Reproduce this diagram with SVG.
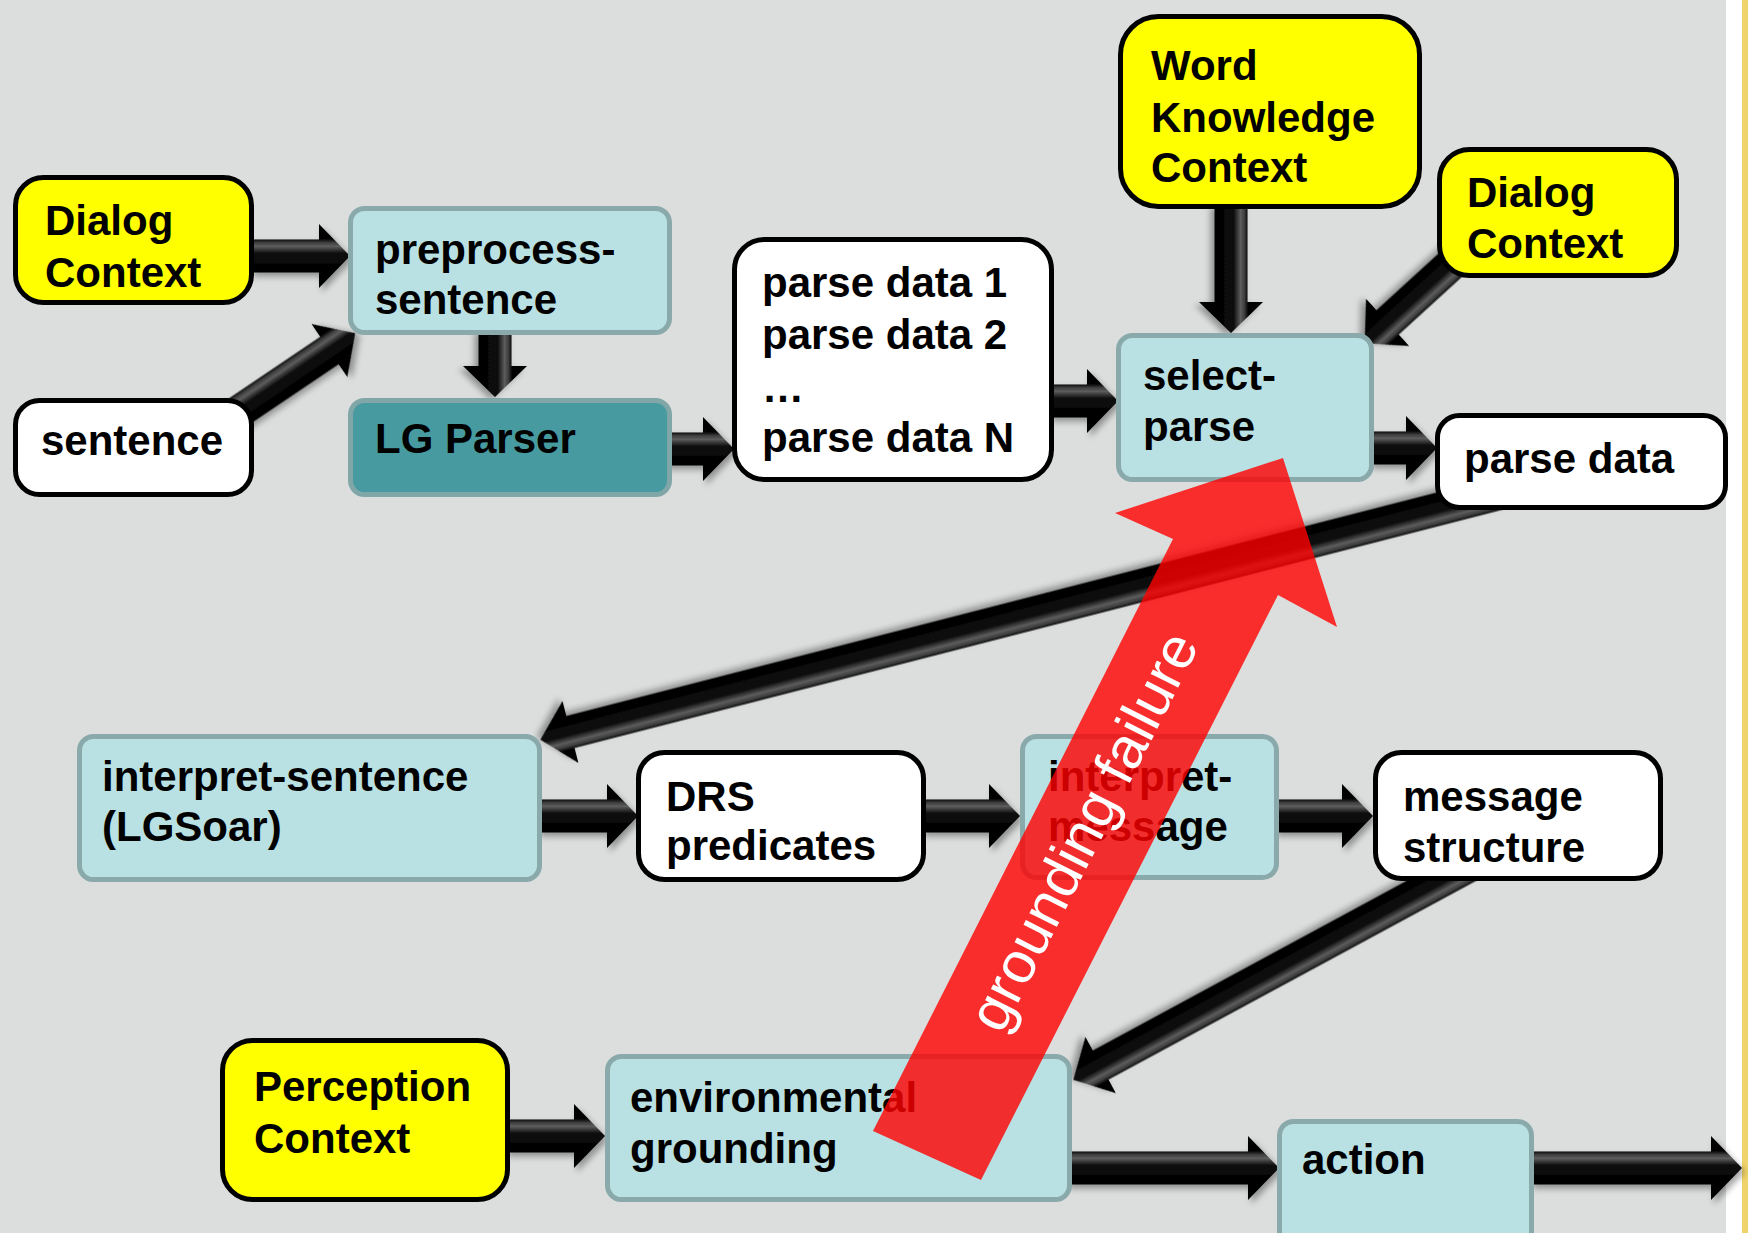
<svg xmlns="http://www.w3.org/2000/svg" width="1748" height="1233" viewBox="0 0 1748 1233">
  <defs>
    <style>
      .ctx { fill: #ffff00; stroke: #000; stroke-width: 5; }
      .data { fill: #ffffff; stroke: #000; stroke-width: 5; }
      .proc { fill: #b9e0e3; stroke: #8aa9ab; stroke-width: 5; }
      .parser { fill: #479ba0; stroke: #80a6a8; stroke-width: 5; }
      .lbl { font-family: "Liberation Sans", Arial, sans-serif; font-weight: bold; font-size: 42px; fill: #000; }
      .arr { fill: url(#sheen); filter: url(#shadow); }
      .fail { font-family: "Liberation Sans", Arial, sans-serif; font-size: 58px; fill: #ffffff; }
    </style>
    <!-- sheen across the shaft of a block arrow, in the arrow's local frame -->
    <linearGradient id="sheen" gradientUnits="userSpaceOnUse" x1="0" y1="-17" x2="0" y2="17">
      <stop offset="0" stop-color="#000"/>
      <stop offset="0.1" stop-color="#3c3c3c"/>
      <stop offset="0.22" stop-color="#5c5c5c"/>
      <stop offset="0.42" stop-color="#0d0d0d"/>
      <stop offset="1" stop-color="#000"/>
    </linearGradient>
    <filter id="shadow" x="-20%" y="-50%" width="140%" height="200%">
      <feDropShadow dx="3" dy="4" stdDeviation="3" flood-color="#000" flood-opacity="0.35"/>
    </filter>
  </defs>

  <!-- page -->
  <rect x="0" y="0" width="1748" height="1233" fill="#ffffff"/>
  <rect x="0" y="0" width="1726" height="1233" fill="#dcdedd"/>
  <rect x="1742" y="0" width="6" height="1233" fill="#f0d36a"/>

  <!-- connectors -->
  <g id="connectors">
    <path class="arr" transform="translate(250,256)" d="M0,-16.5 H69 V-32 L100,0 L69,32 V16.5 H0 Z"/>
    <path class="arr" transform="translate(225,421) rotate(-34)" d="M0,-16.5 H126 V-32 L157,0 L126,32 V16.5 H0 Z"/>
    <path class="arr" transform="translate(495,330) rotate(90)" d="M0,-16.5 H36 V-32 L67,0 L36,32 V16.5 H0 Z"/>
    <path class="arr" transform="translate(665,449)" d="M0,-16.5 H38 V-32 L69,0 L38,32 V16.5 H0 Z"/>
    <path class="arr" transform="translate(1049,401)" d="M0,-16.5 H38 V-32 L69,0 L38,32 V16.5 H0 Z"/>
    <path class="arr" transform="translate(1231,204) rotate(90)" d="M0,-16.5 H98 V-32 L129,0 L98,32 V16.5 H0 Z"/>
    <path class="arr" transform="translate(1457,259) rotate(137.6)" d="M0,-16.5 H94 V-32 L125,0 L94,32 V16.5 H0 Z"/>
    <path class="arr" transform="translate(1369,448)" d="M0,-16.5 H37 V-32 L68,0 L37,32 V16.5 H0 Z"/>
    <path class="arr" transform="translate(1509,491) rotate(165.6)" d="M0,-16.5 H969 V-32 L1000,0 L969,32 V16.5 H0 Z"/>
    <path class="arr" transform="translate(537,816)" d="M0,-16.5 H70 V-32 L101,0 L70,32 V16.5 H0 Z"/>
    <path class="arr" transform="translate(921,816)" d="M0,-16.5 H68 V-32 L99,0 L68,32 V16.5 H0 Z"/>
    <path class="arr" transform="translate(1274,816)" d="M0,-16.5 H68 V-32 L99,0 L68,32 V16.5 H0 Z"/>
    <path class="arr" transform="translate(1478,861) rotate(151.6)" d="M0,-16.5 H429 V-32 L460,0 L429,32 V16.5 H0 Z"/>
    <path class="arr" transform="translate(505,1136)" d="M0,-16.5 H69 V-32 L100,0 L69,32 V16.5 H0 Z"/>
    <path class="arr" transform="translate(1066,1168)" d="M0,-16.5 H182 V-32 L213,0 L182,32 V16.5 H0 Z"/>
    <path class="arr" transform="translate(1530,1168)" d="M0,-16.5 H181 V-32 L212,0 L181,32 V16.5 H0 Z"/>
  </g>

  <!-- nodes -->
  <g id="dialog-context-1">
    <rect class="ctx" x="15.5" y="177.5" width="236" height="125" rx="28"/>
    <text class="lbl" x="45" y="235">Dialog</text>
    <text class="lbl" x="45" y="287">Context</text>
  </g>
  <g id="sentence">
    <rect class="data" x="15.5" y="400.5" width="236" height="94" rx="24"/>
    <text class="lbl" x="41" y="455">sentence</text>
  </g>
  <g id="preprocess-sentence">
    <rect class="proc" x="350.5" y="208.5" width="319" height="124" rx="14"/>
    <text class="lbl" x="375" y="264">preprocess-</text>
    <text class="lbl" x="375" y="314">sentence</text>
  </g>
  <g id="lg-parser">
    <rect class="parser" x="350.5" y="400.5" width="319" height="94" rx="14"/>
    <text class="lbl" x="375" y="453">LG Parser</text>
  </g>
  <g id="parse-data-list">
    <rect class="data" x="734.5" y="239.5" width="317" height="240" rx="30"/>
    <text class="lbl" x="762" y="297">parse data 1</text>
    <text class="lbl" x="762" y="349">parse data 2</text>
    <text class="lbl" x="762" y="402">…</text>
    <text class="lbl" x="762" y="452">parse data N</text>
  </g>
  <g id="word-knowledge-context">
    <rect class="ctx" x="1120.5" y="16.5" width="299" height="190" rx="38"/>
    <text class="lbl" x="1151" y="80">Word</text>
    <text class="lbl" x="1151" y="132">Knowledge</text>
    <text class="lbl" x="1151" y="182">Context</text>
  </g>
  <g id="dialog-context-2">
    <rect class="ctx" x="1439.5" y="149.5" width="237" height="126" rx="30"/>
    <text class="lbl" x="1467" y="207">Dialog</text>
    <text class="lbl" x="1467" y="258">Context</text>
  </g>
  <g id="select-parse">
    <rect class="proc" x="1118.5" y="335.5" width="253" height="144" rx="14"/>
    <text class="lbl" x="1143" y="390">select-</text>
    <text class="lbl" x="1143" y="441">parse</text>
  </g>
  <g id="parse-data">
    <rect class="data" x="1437.5" y="415.5" width="288" height="92" rx="22"/>
    <text class="lbl" x="1464" y="473">parse data</text>
  </g>
  <g id="interpret-sentence">
    <rect class="proc" x="79.5" y="736.5" width="460" height="143" rx="14"/>
    <text class="lbl" x="102" y="791">interpret-sentence</text>
    <text class="lbl" x="102" y="841">(LGSoar)</text>
  </g>
  <g id="drs-predicates">
    <rect class="data" x="638.5" y="752.5" width="285" height="127" rx="26"/>
    <text class="lbl" x="666" y="811">DRS</text>
    <text class="lbl" x="666" y="860">predicates</text>
  </g>
  <g id="interpret-message">
    <rect class="proc" x="1022.5" y="736.5" width="254" height="141" rx="14"/>
    <text class="lbl" x="1048" y="791">interpret-</text>
    <text class="lbl" x="1048" y="841">message</text>
  </g>
  <g id="message-structure">
    <rect class="data" x="1375.5" y="752.5" width="285" height="126" rx="26"/>
    <text class="lbl" x="1403" y="811">message</text>
    <text class="lbl" x="1403" y="862">structure</text>
  </g>
  <g id="perception-context">
    <rect class="ctx" x="222.5" y="1040.5" width="285" height="159" rx="30"/>
    <text class="lbl" x="254" y="1101">Perception</text>
    <text class="lbl" x="254" y="1153">Context</text>
  </g>
  <g id="environmental-grounding">
    <rect class="proc" x="607.5" y="1056.5" width="462" height="143" rx="14"/>
    <text class="lbl" x="630" y="1112">environmental</text>
    <text class="lbl" x="630" y="1163">grounding</text>
  </g>
  <g id="action">
    <rect class="proc" x="1279.5" y="1121.5" width="252" height="140" rx="14"/>
    <text class="lbl" x="1302" y="1174">action</text>
  </g>

  <!-- translucent feedback arrow laid over the pipeline -->
  <g id="grounding-failure">
    <polygon points="1283,458 1337,627 1278,595 981,1180 873,1131 1173,539 1115,513" fill="#ff0000" fill-opacity="0.8"/>
    <text class="fail" transform="translate(1083,831) rotate(-63.1)" x="0" y="20" text-anchor="middle" textLength="438" lengthAdjust="spacingAndGlyphs">grounding failure</text>
  </g>
</svg>
